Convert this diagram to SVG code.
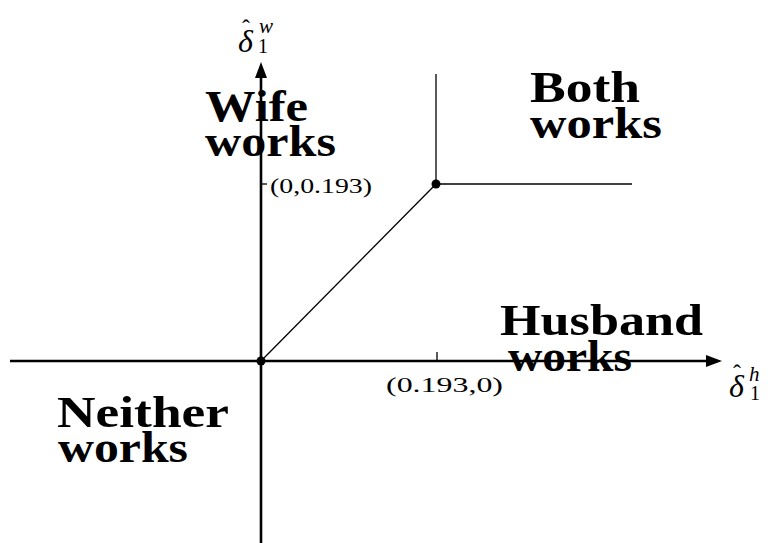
<svg xmlns="http://www.w3.org/2000/svg" width="770" height="543" viewBox="0 0 770 543">
<style>
.axis{stroke:#000;stroke-width:2.6;fill:none}
.thin{stroke:#000;stroke-width:1.3;fill:none}
.big{font-family:"Liberation Serif","DejaVu Serif",serif;font-weight:bold;font-size:45px;fill:#000}
.small{font-family:"Liberation Serif","DejaVu Serif",serif;font-size:21px;fill:#000}
.math{font-family:"Liberation Serif","DejaVu Serif",serif;fill:#000}
.it{font-style:italic}
</style>
<rect width="770" height="543" fill="#fff"/>
<g id="connectors">
<line class="axis" x1="10" y1="361" x2="710" y2="361"/>
<polygon points="722,361 706,355 706,367" fill="#000"/>
<line class="axis" x1="261" y1="543" x2="261" y2="74"/>
<polygon points="261,62 255,78 267,78" fill="#000"/>
<line class="thin" x1="261" y1="361" x2="436" y2="184"/>
<line class="thin" x1="436" y1="74" x2="436" y2="184"/>
<line class="thin" x1="436" y1="184" x2="632" y2="184"/>
<line class="thin" x1="437" y1="352" x2="437" y2="361"/>
<line class="thin" x1="261" y1="184" x2="267" y2="184"/>
<circle cx="261" cy="361" r="4.5" fill="#000"/>
<circle cx="436" cy="184" r="4.5" fill="#000"/>
</g>
<g id="wife">
<text class="big"><tspan x="205" y="121" textLength="103" lengthAdjust="spacingAndGlyphs">Wife</tspan><tspan x="205" y="156" textLength="131" lengthAdjust="spacingAndGlyphs">works</tspan></text>
</g>
<g id="both">
<text class="big"><tspan x="530" y="102" textLength="110" lengthAdjust="spacingAndGlyphs">Both</tspan><tspan x="530" y="138" textLength="132" lengthAdjust="spacingAndGlyphs">works</tspan></text>
</g>
<g id="husband">
<text class="big"><tspan x="500" y="335" textLength="203" lengthAdjust="spacingAndGlyphs">Husband</tspan><tspan x="508" y="371" textLength="124" lengthAdjust="spacingAndGlyphs">works</tspan></text>
</g>
<g id="neither">
<text class="big"><tspan x="57" y="427" textLength="172" lengthAdjust="spacingAndGlyphs">Neither</tspan><tspan x="58" y="462" textLength="130" lengthAdjust="spacingAndGlyphs">works</tspan></text>
</g>
<g id="tick-labels">
<text class="small" x="270" y="193" textLength="102" lengthAdjust="spacingAndGlyphs">(0,0.193)</text>
<text class="small" x="386" y="392" textLength="117" lengthAdjust="spacingAndGlyphs">(0.193,0)</text>
</g>
<g id="axis-label-w">
<text class="math"><tspan class="it" x="238" y="52" font-size="32">δ</tspan><tspan x="242" y="36" font-size="24">ˆ</tspan><tspan class="it" x="259" y="33" font-size="21">w</tspan><tspan x="258" y="53" font-size="20">1</tspan></text>
</g>
<g id="axis-label-h">
<text class="math"><tspan class="it" x="729" y="397" font-size="32">δ</tspan><tspan x="733" y="381" font-size="24">ˆ</tspan><tspan class="it" x="749" y="381" font-size="21">h</tspan><tspan x="750" y="400" font-size="20">1</tspan></text>
</g>
</svg>
